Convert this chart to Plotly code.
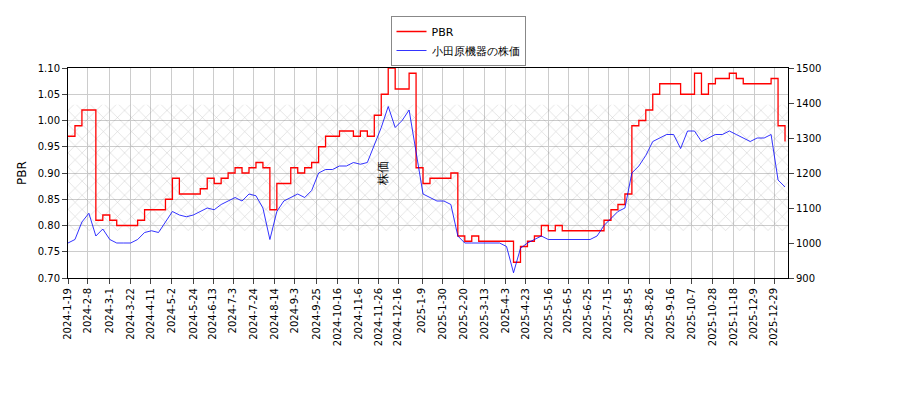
import pandas as pd
import plotly.graph_objects as go

# 週次の値（チャートから読み取り）
pbr = [0.97, 0.99, 1.02, 1.02, 0.81, 0.82, 0.81, 0.80, 0.80, 0.80,
       0.81, 0.83, 0.83, 0.83, 0.85, 0.89, 0.86, 0.86, 0.86, 0.87,
       0.89, 0.88, 0.89, 0.90, 0.91, 0.90, 0.91, 0.92, 0.91, 0.83,
       0.88, 0.88, 0.91, 0.90, 0.91, 0.92, 0.95, 0.97, 0.97, 0.98,
       0.98, 0.97, 0.98, 0.97, 1.01, 1.05, 1.10, 1.06, 1.06, 1.09,
       0.91, 0.88, 0.89, 0.89, 0.89, 0.90, 0.78, 0.77, 0.78, 0.77,
       0.77, 0.77, 0.77, 0.77, 0.73, 0.76, 0.77, 0.78, 0.80, 0.79,
       0.80, 0.79, 0.79, 0.79, 0.79, 0.79, 0.79, 0.81, 0.83, 0.84,
       0.86, 0.99, 1.00, 1.02, 1.05, 1.07, 1.07, 1.07, 1.05, 1.05,
       1.09, 1.05, 1.07, 1.08, 1.08, 1.09, 1.08, 1.07, 1.07, 1.07,
       1.07, 1.08, 0.99, 0.96]
price = [1000, 1010, 1060, 1085, 1020, 1040, 1010, 1000, 1000, 1000,
         1010, 1030, 1035, 1030, 1060, 1090, 1080, 1075, 1080, 1090,
         1100, 1095, 1110, 1120, 1130, 1120, 1140, 1135, 1100, 1010,
         1090, 1120, 1130, 1140, 1130, 1150, 1200, 1210, 1210, 1220,
         1220, 1230, 1225, 1230, 1280, 1330, 1390, 1330, 1350, 1380,
         1260, 1140, 1130, 1120, 1120, 1110, 1020, 1000, 1000, 1000,
         1000, 1000, 1000, 990, 915, 985, 1000, 1010, 1020, 1010,
         1010, 1010, 1010, 1010, 1010, 1010, 1020, 1050, 1070, 1090,
         1100, 1200, 1220, 1250, 1290, 1300, 1310, 1310, 1270, 1320,
         1320, 1290, 1300, 1310, 1310, 1320, 1310, 1300, 1290, 1300,
         1300, 1310, 1180, 1160]
band_low, band_high = 0.79, 1.03
tick_labels = ["2024-1-19", "2024-2-8", "2024-3-1", "2024-3-22", "2024-4-11", "2024-5-2",
               "2024-5-24", "2024-6-13", "2024-7-3", "2024-7-24", "2024-8-14", "2024-9-3",
               "2024-9-25", "2024-10-16", "2024-11-6", "2024-11-26", "2024-12-16", "2025-1-9",
               "2025-1-30", "2025-2-20", "2025-3-13", "2025-4-3", "2025-4-23", "2025-5-16",
               "2025-6-5", "2025-6-25", "2025-7-15", "2025-8-5", "2025-8-26", "2025-9-16",
               "2025-10-7", "2025-10-28", "2025-11-18", "2025-12-9", "2025-12-29"]

dates = pd.date_range("2024-01-19", periods=len(pbr), freq="7D")
start, end = pd.Timestamp("2024-01-19"), pd.Timestamp("2026-01-12")

fig = go.Figure()
fig.add_trace(go.Scatter(
    x=[start, end, end, start, start], y=[band_low, band_low, band_high, band_high, band_low],
    fill="toself", mode="none", showlegend=False, hoverinfo="skip",
    fillcolor="rgba(0,0,0,0)",
    fillpattern=dict(shape="x", fgcolor="rgba(110,110,110,0.7)", bgcolor="rgba(0,0,0,0)", size=10, solidity=0.1),
))
fig.add_trace(go.Scatter(x=dates, y=pbr, name="PBR", line=dict(color="red", width=1.3, shape="hv")))
fig.add_trace(go.Scatter(x=dates, y=price, name="小田原機器の株価", yaxis="y2",
                         line=dict(color="blue", width=0.8)))

fig.update_layout(
    width=900, height=400, plot_bgcolor="white", paper_bgcolor="white",
    margin=dict(l=60, r=120, t=60, b=130, autoexpand=False),
    font=dict(family="DejaVu Sans", size=10, color="black"),
    legend=dict(x=0.5, xanchor="center", xref="container", y=0.98, yref="container", yanchor="top",
                bordercolor="#888", borderwidth=1, font=dict(size=11)),
    xaxis=dict(range=[start, end], tickvals=pd.to_datetime(tick_labels),
               ticktext=tick_labels, tickangle=-90, automargin=False,
               showgrid=True, gridcolor="#ccc", showline=True, linecolor="black", mirror=True, ticks="outside"),
    yaxis=dict(title=dict(text="PBR", standoff=8), range=[0.70, 1.10], dtick=0.05, tickformat=".2f", automargin=False,
               showgrid=True, gridcolor="#ccc", showline=True, linecolor="black", ticks="outside"),
    yaxis2=dict(title=dict(text="株価", standoff=8), overlaying="y", side="right", range=[900, 1500], dtick=100,
                automargin=False, showgrid=False, showline=True, linecolor="black", ticks="outside"),
)
fig.write_html("out.html")
